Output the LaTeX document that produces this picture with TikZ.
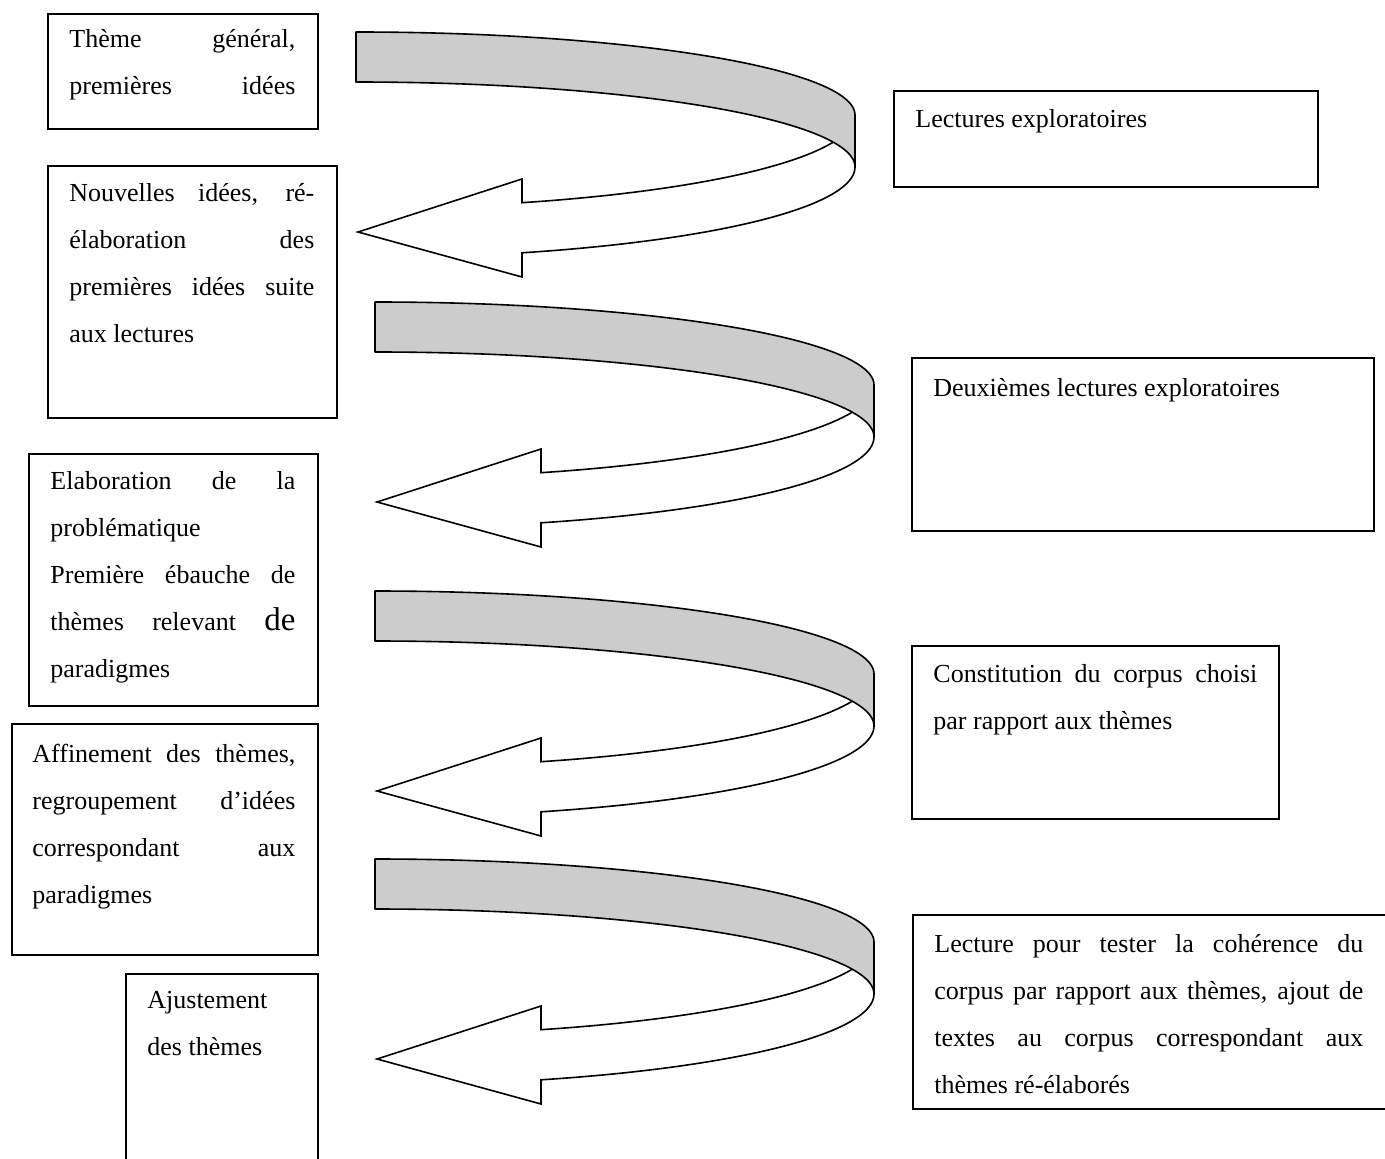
\documentclass[tikz,border=0pt]{standalone}
\usepackage{fontspec}
\setmainfont{Liberation Serif}
\newcommand\jl[1]{\makebox[\linewidth][s]{#1}}
\newcommand\ribbonarrow{%
  \filldraw[body] (499,83) -- plot[domain=0:70.57,samples=60,variable=\t] ({499*cos(\t)},{83+93*sin(\t)})
    -- (166,147) -- (2,200) -- (166,245)
    -- plot[domain=70.57:0,samples=60,variable=\t] ({499*cos(\t)},{135+91*sin(\t)}) -- cycle;
  \filldraw[band] plot[domain=90:0,samples=80,variable=\t] ({499*cos(\t)},{83-83*sin(\t)})
    -- (499,135) -- plot[domain=0:90,samples=80,variable=\t] ({499*cos(\t)},{135-85*sin(\t)}) -- cycle;
}
\begin{document}
\begin{tikzpicture}[x=0.5pt,y=-0.5pt,
  box/.style={draw, line width=1.1pt, anchor=north west, inner sep=0pt},
  txt/.style={anchor=base west, inner sep=0pt, font=\fontsize{13pt}{23.5pt}\selectfont},
  band/.style={fill=black!20, draw=black, line width=0.8pt, line join=round},
  body/.style={fill=white, draw=black, line width=0.8pt, line join=miter}]
\useasboundingbox (0,0) rectangle (1385,1159);
\clip (0,0) rectangle (1385,1159);

% boxes
\node[box, minimum width=135pt, minimum height=57.5pt] (b1) at (47,13) {};
\node[box, minimum width=212pt, minimum height=48pt] (b2) at (893,90) {};
\node[box, minimum width=144.5pt, minimum height=126pt] (b3) at (47,165) {};
\node[box, minimum width=231pt, minimum height=86.5pt] (b4) at (911,357) {};
\node[box, minimum width=144.5pt, minimum height=126pt] (b5) at (28,453) {};
\node[box, minimum width=153pt, minimum height=115.5pt] (b6) at (11,723) {};
\node[box, minimum width=183.5pt, minimum height=86.5pt] (b7) at (911,645) {};
\node[box, minimum width=96pt, minimum height=100pt] (b8) at (125,973) {};
\node[box, minimum width=245pt, minimum height=97pt] (b9) at (912,914) {};

% texts
\node[txt] (t1) at (69,48) {\parbox[t]{113pt}{\jl{Thème général,}\\\jl{premières idées}}};
\node[txt] (t2) at (915,128) {Lectures exploratoires};
\node[txt] (t3) at (69,202) {\parbox[t]{122.5pt}{\jl{Nouvelles idées, ré-}\\\jl{élaboration des}\\\jl{premières idées suite}\\aux lectures}};
\node[txt] (t4) at (933,397) {Deuxièmes lectures exploratoires};
\node[txt] (t5) at (50,490) {\parbox[t]{122.5pt}{\jl{Elaboration de la}\\problématique\\\jl{Première ébauche de}\\\jl{thèmes relevant {\fontsize{16.5pt}{23.5pt}\selectfont de}}\\paradigmes}};
\node[txt] (t6) at (32,762) {\parbox[t]{131.5pt}{\jl{Affinement des thèmes,}\\\jl{regroupement d’idées}\\\jl{correspondant aux}\\paradigmes}};
\node[txt] (t7) at (933,682) {\parbox[t]{162pt}{\jl{Constitution du corpus choisi}\\par rapport aux thèmes}};
\node[txt] (t8) at (147,1008) {\parbox[t]{80pt}{Ajustement\\des thèmes}};
\node[txt] (t9) at (934,952) {\parbox[t]{214.5pt}{\jl{Lecture pour tester la cohérence du}\\\jl{corpus par rapport aux thèmes, ajout de}\\\jl{textes au corpus correspondant aux}\\thèmes ré-élaborés}};

% ribbon arrows
\begin{scope}[shift={(356,32)}]\ribbonarrow\end{scope}
\begin{scope}[shift={(375,302)}]\ribbonarrow\end{scope}
\begin{scope}[shift={(375,591)}]\ribbonarrow\end{scope}
\begin{scope}[shift={(375,859)}]\ribbonarrow\end{scope}
\end{tikzpicture}
\end{document}
